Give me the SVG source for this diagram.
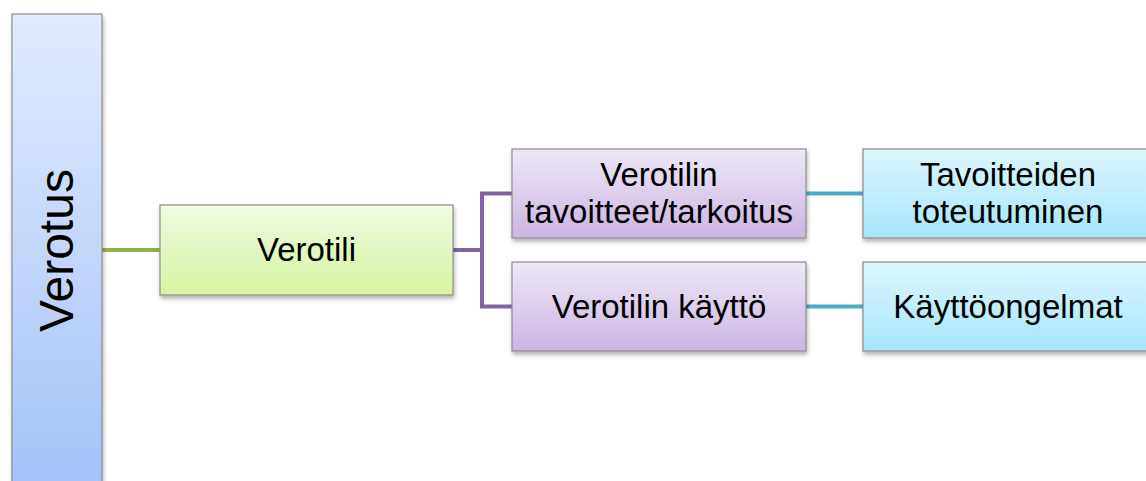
<svg xmlns="http://www.w3.org/2000/svg" width="1146" height="481" viewBox="0 0 1146 481">
<style>
.box{stroke:#8c8c8c;stroke-width:1.2;filter:url(#sh)}
.t{font-family:"Liberation Sans",Arial,sans-serif;font-size:33px;fill:#000;text-anchor:middle}
.c{fill:none;stroke-width:4}
</style>
<defs>
<filter id="sh" x="-10%" y="-10%" width="120%" height="130%">
<feDropShadow dx="1" dy="3" stdDeviation="2" flood-color="#000" flood-opacity="0.3"/>
</filter>
<linearGradient id="gBlue" x1="0" y1="0" x2="0" y2="1"><stop offset="0" stop-color="#e1ebfd"/><stop offset="1" stop-color="#a3c1f8"/></linearGradient>
<linearGradient id="gGreen" x1="0" y1="0" x2="0" y2="1"><stop offset="0" stop-color="#f1fbe3"/><stop offset="1" stop-color="#d5f49f"/></linearGradient>
<linearGradient id="gPurple" x1="0" y1="0" x2="0" y2="1"><stop offset="0" stop-color="#eee8f6"/><stop offset="1" stop-color="#cbb5e2"/></linearGradient>
<linearGradient id="gCyan" x1="0" y1="0" x2="0" y2="1"><stop offset="0" stop-color="#ddf7fd"/><stop offset="1" stop-color="#a5e6fa"/></linearGradient>
</defs>
<rect width="1146" height="481" fill="#ffffff"/>
<g id="connectors">
<path class="c" stroke="#8eb04f" d="M102,250H160"/>
<path class="c" stroke="#8064a2" d="M453,250H482M512,193.5H482V306.5H512"/>
<path class="c" stroke="#4bacc6" d="M806,193.5H863M806,306.5H863"/>
</g>
<g id="verotus">
<rect class="box" x="12" y="14" width="90" height="490" fill="url(#gBlue)"/>
<text class="t" style="font-size:48px" transform="translate(73,250.5) rotate(-90)">Verotus</text>
</g>
<g id="verotili">
<rect class="box" x="160" y="205" width="293" height="90" fill="url(#gGreen)"/>
<text class="t" x="306.5" y="261">Verotili</text>
</g>
<g id="tavoitteet">
<rect class="box" x="512" y="149" width="294" height="89" fill="url(#gPurple)"/>
<text class="t" x="659" y="186">Verotilin</text>
<text class="t" x="659" y="223">tavoitteet/tarkoitus</text>
</g>
<g id="kaytto">
<rect class="box" x="512" y="262" width="294" height="89" fill="url(#gPurple)"/>
<text class="t" x="659" y="318">Verotilin käyttö</text>
</g>
<g id="toteutuminen">
<rect class="box" x="863" y="149" width="300" height="89" fill="url(#gCyan)"/>
<text class="t" x="1008" y="186">Tavoitteiden</text>
<text class="t" x="1008" y="223">toteutuminen</text>
</g>
<g id="kayttoongelmat">
<rect class="box" x="863" y="262" width="300" height="89" fill="url(#gCyan)"/>
<text class="t" x="1008" y="318">Käyttöongelmat</text>
</g>
</svg>
